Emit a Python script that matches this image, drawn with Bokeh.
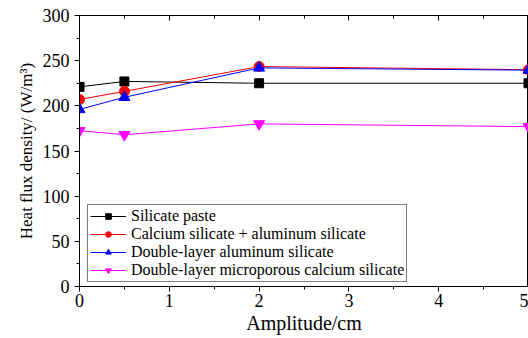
from bokeh.plotting import figure
from bokeh.models import LinearAxis, Range1d, Legend, LegendItem, FixedTicker, CustomJSTickFormatter
from bokeh.embed import file_html
from bokeh.resources import INLINE

amplitude = [0, 0.5, 2, 5]
silicate_paste = [221, 227, 225, 225]
ca_al_silicate = [207, 216, 243.5, 240]
double_al_silicate = [196, 209.5, 242, 239.5]
double_micro_ca = [172.5, 168, 180, 177]

FONT = "Liberation Serif"

p = figure(output_backend="svg", toolbar_location=None,
           frame_width=449, frame_height=271,
           min_border_left=79, min_border_top=15, min_border_right=0, min_border_bottom=0,
           x_range=Range1d(0, 5), y_range=Range1d(0, 300))
p.background_fill_color = "white"
p.border_fill_color = "white"
p.outline_line_color = "black"
p.outline_line_width = 1
p.xgrid.visible = False
p.ygrid.visible = False

for ax in (p.xaxis[0], p.yaxis[0]):
    ax.axis_line_color = "black"
    ax.major_tick_line_color = "black"
    ax.minor_tick_line_color = "black"
    ax.major_tick_out = 5
    ax.major_tick_in = 0
    ax.minor_tick_out = 3
    ax.minor_tick_in = 0
    ax.major_label_text_font = FONT
    ax.major_label_text_font_size = "18px"
    ax.major_label_text_color = "black"
    ax.axis_label_text_font = FONT
    ax.axis_label_text_font_style = "normal"
    ax.axis_label_text_color = "black"

p.xaxis[0].axis_label_text_font_size = "20px"
p.yaxis[0].axis_label_text_font_size = "17px"
p.xaxis[0].ticker = FixedTicker(ticks=[0, 1, 2, 3, 4, 5], minor_ticks=[0.5, 1.5, 2.5, 3.5, 4.5])
p.yaxis[0].ticker = FixedTicker(ticks=list(range(0, 301, 50)), minor_ticks=list(range(25, 300, 50)))
p.xaxis[0].axis_label = "Amplitude/cm"
p.yaxis[0].axis_label = "Heat flux density/ (W/m³)"
p.xaxis[0].major_label_standoff = 2
p.yaxis[0].major_label_standoff = 5
p.xaxis[0].axis_label_standoff = 2
p.yaxis[0].axis_label_standoff = 4

top = LinearAxis(ticker=FixedTicker(ticks=[0, 1, 2, 3, 4, 5], minor_ticks=[0.5, 1.5, 2.5, 3.5, 4.5]),
                 formatter=CustomJSTickFormatter(code="return ''"))
top.major_tick_in = 5
top.major_tick_out = 0
top.minor_tick_in = 3
top.minor_tick_out = 0
top.major_label_standoff = 0
top.axis_line_color = "black"
p.add_layout(top, "above")

series = [
    ("Silicate paste", silicate_paste, "black", "square", 9),
    ("Calcium silicate + aluminum silicate", ca_al_silicate, "red", "circle", 10),
    ("Double-layer aluminum silicate", double_al_silicate, "blue", "triangle", 11),
    ("Double-layer microporous calcium silicate", double_micro_ca, "magenta", "inverted_triangle", 11),
]
items = []
for label, ys, color, marker, size in series:
    l = p.line(amplitude, ys, line_color=color, line_width=1)
    s = p.scatter(amplitude, ys, marker=marker, size=size, fill_color=color, line_color=color)
    items.append(LegendItem(label=label, renderers=[l, s]))

legend = Legend(items=items, location=(8, 4), margin=0, padding=2, spacing=0,
                glyph_width=36, glyph_height=14, label_height=14,
                label_text_font=FONT, label_text_font_size="16px", label_text_color="black",
                label_standoff=5,
                border_line_color="black", border_line_width=1, background_fill_alpha=1)
p.add_layout(legend, "center")

open("out.html", "w").write(file_html(p, INLINE))
